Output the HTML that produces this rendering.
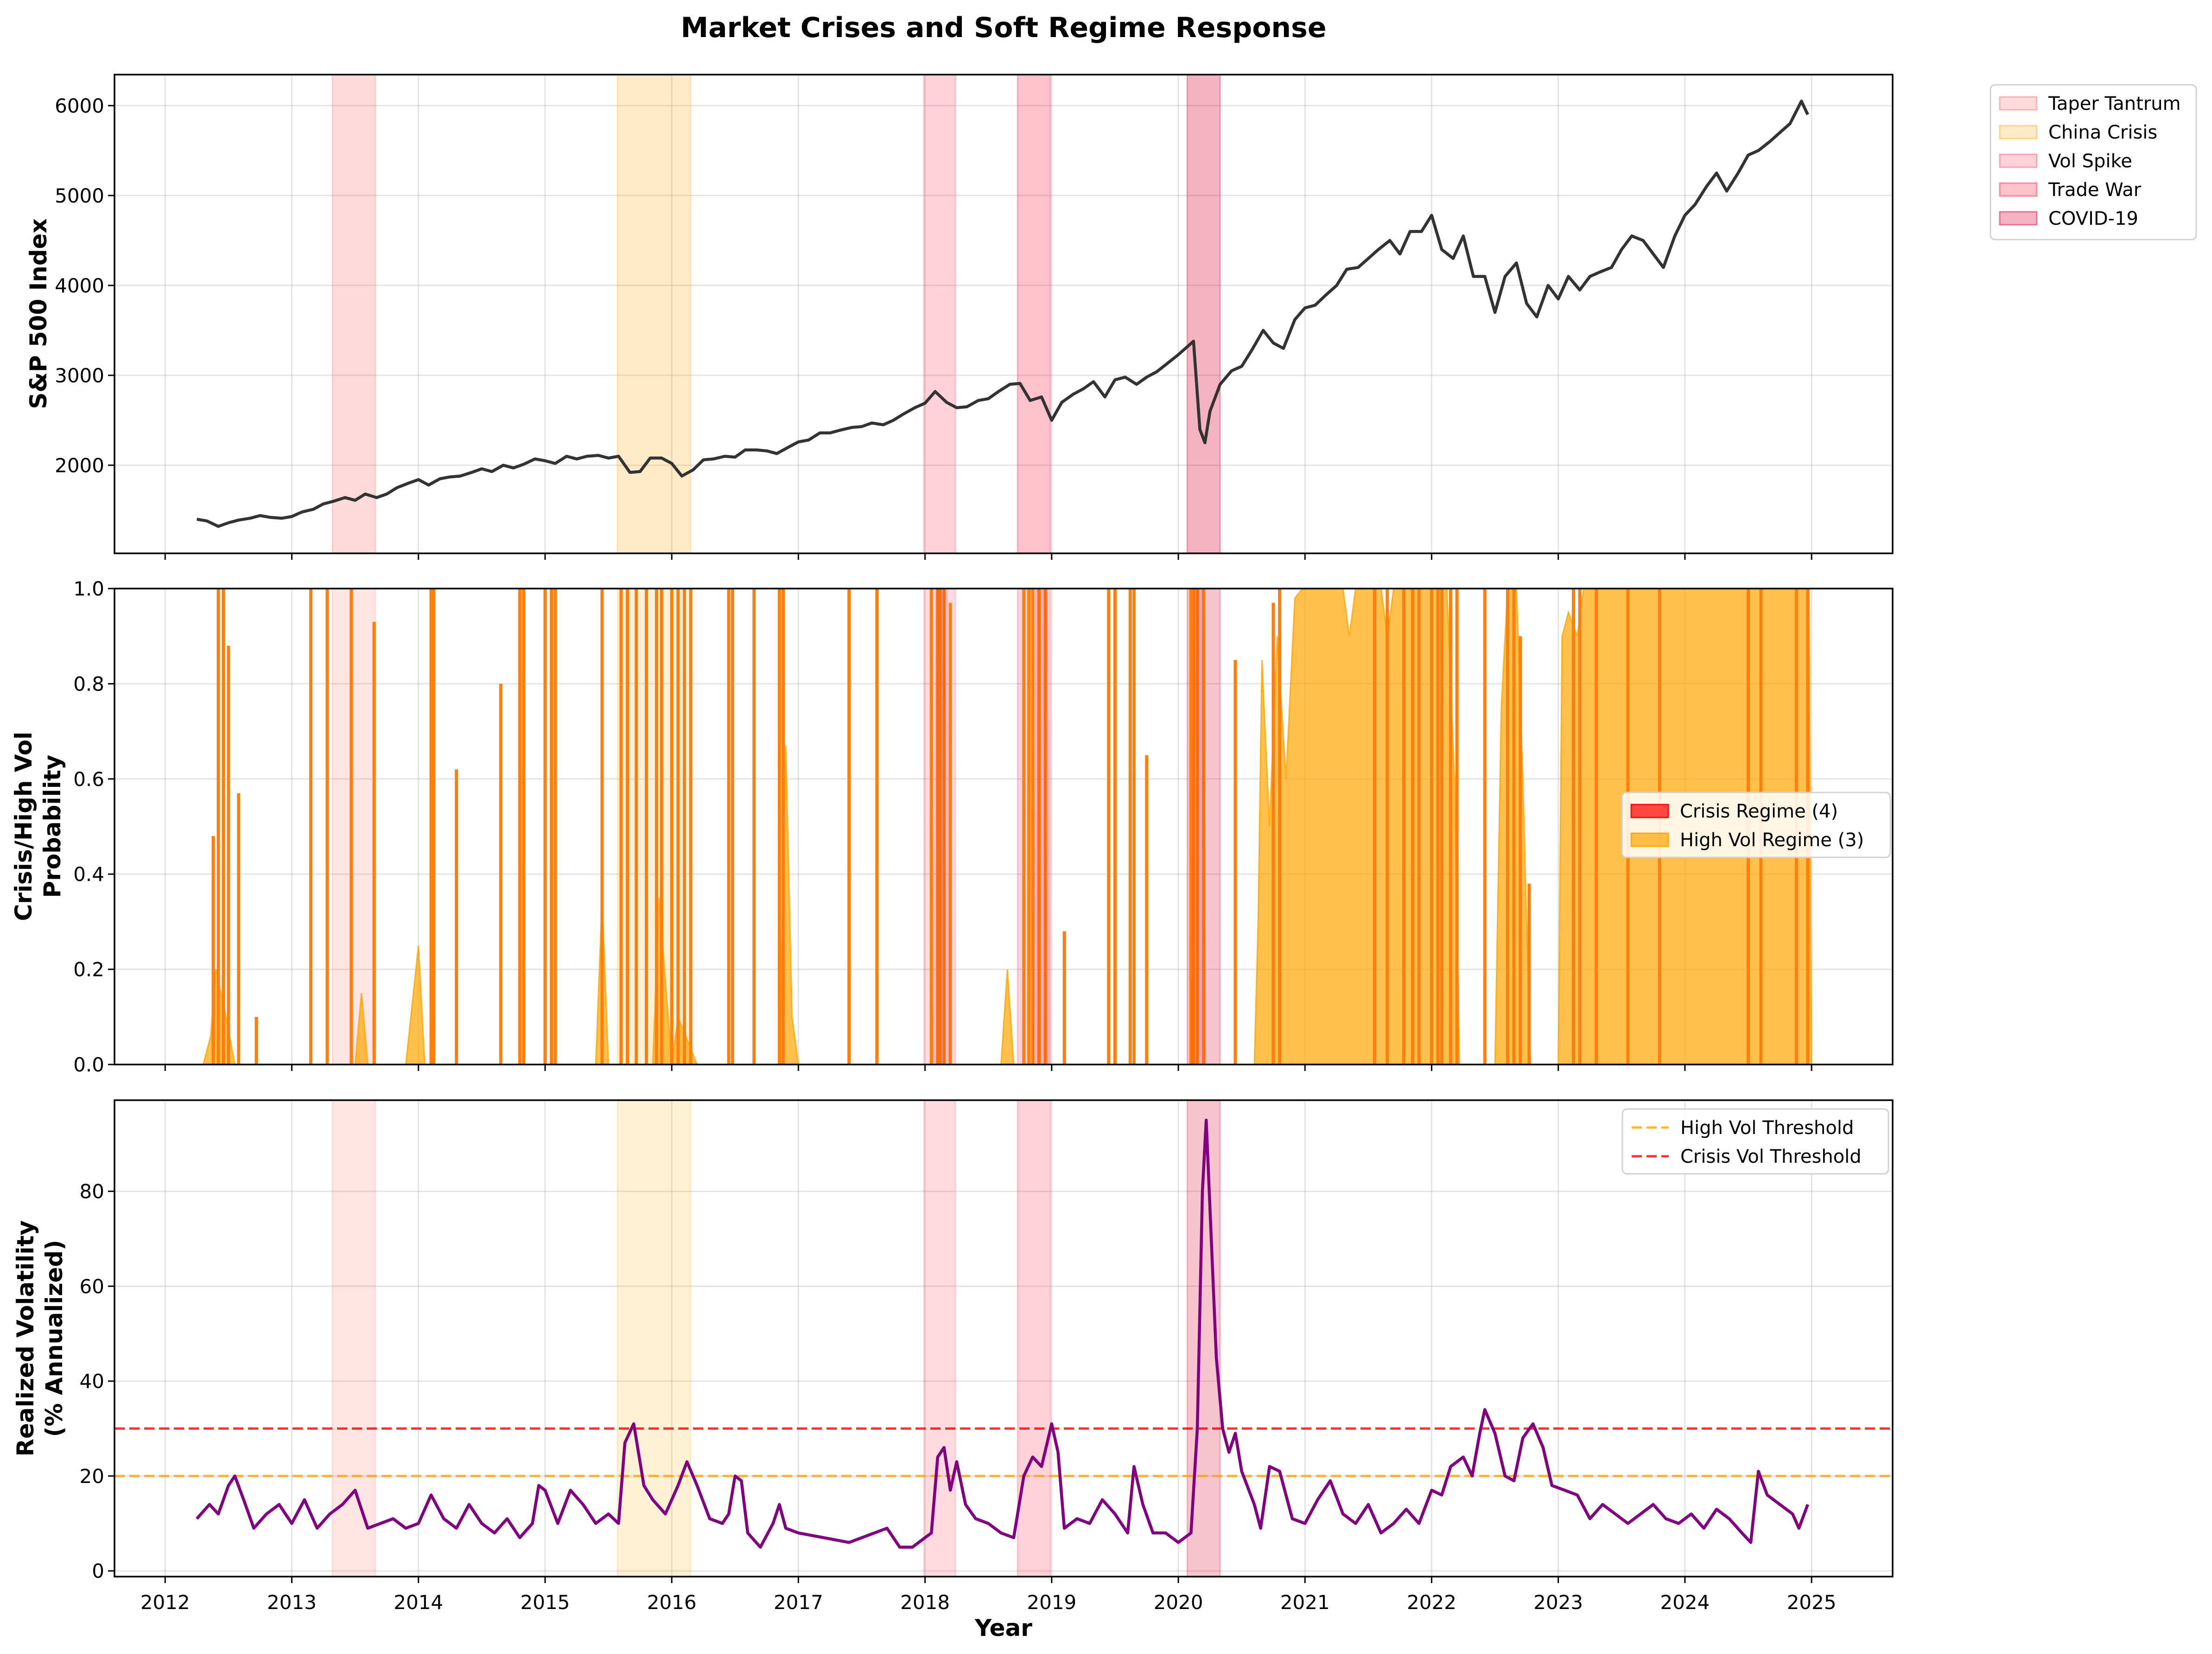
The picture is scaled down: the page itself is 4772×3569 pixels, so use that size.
<!DOCTYPE html>
<html><head><meta charset="utf-8">
<style>
html,body{margin:0;padding:0;background:#fff;}
svg{display:block;font-family:"DejaVu Sans","Liberation Sans",sans-serif;}
</style></head>
<body>
<svg id="chart" width="4772" height="3569" viewBox="0 0 4772 3569" xmlns="http://www.w3.org/2000/svg">
<rect x="0" y="0" width="4772" height="3569" fill="#fff"/>
<text x="2165" y="80" font-size="60" font-weight="bold" text-anchor="middle">Market Crises and Soft Regime Response</text>
<g id="g1"></g><g id="g2"></g><g id="g3"></g>
<text x="2165" y="3530" font-size="50" font-weight="bold" text-anchor="middle">Year</text>
</svg>
<script>
// ---- data ----
const crisisNames = ["Taper Tantrum","China Crisis","Vol Spike","Trade War","COVID-19"];
const crisisStart = [2013.32,2015.57,2017.99,2018.73,2020.07];
const crisisEnd   = [2013.66,2016.15,2018.24,2018.99,2020.33];
const crisisColors = ["#ff6b6b","#ffa500","#ff4d6a","#ff3355","#dc143c"];

const spxT = [2012.25,2012.33,2012.42,2012.5,2012.58,2012.67,2012.75,2012.83,2012.92,2013.0,2013.08,2013.17,2013.25,2013.33,2013.42,2013.5,2013.58,2013.67,2013.75,2013.83,2013.92,2014.0,2014.08,2014.17,2014.25,2014.33,2014.42,2014.5,2014.58,2014.67,2014.75,2014.83,2014.92,2015.0,2015.08,2015.17,2015.25,2015.33,2015.42,2015.5,2015.58,2015.67,2015.75,2015.83,2015.92,2016.0,2016.08,2016.17,2016.25,2016.33,2016.42,2016.5,2016.58,2016.67,2016.75,2016.83,2016.92,2017.0,2017.08,2017.17,2017.25,2017.33,2017.42,2017.5,2017.58,2017.67,2017.75,2017.83,2017.92,2018.0,2018.08,2018.17,2018.25,2018.33,2018.42,2018.5,2018.58,2018.67,2018.75,2018.83,2018.92,2019.0,2019.08,2019.17,2019.25,2019.33,2019.42,2019.5,2019.58,2019.67,2019.75,2019.83,2019.92,2020.0,2020.08,2020.12,2020.17,2020.21,2020.25,2020.33,2020.42,2020.5,2020.58,2020.67,2020.75,2020.83,2020.92,2021.0,2021.08,2021.17,2021.25,2021.33,2021.42,2021.5,2021.58,2021.67,2021.75,2021.83,2021.92,2022.0,2022.08,2022.17,2022.25,2022.33,2022.42,2022.5,2022.58,2022.67,2022.75,2022.83,2022.92,2023.0,2023.08,2023.17,2023.25,2023.33,2023.42,2023.5,2023.58,2023.67,2023.75,2023.83,2023.92,2024.0,2024.08,2024.17,2024.25,2024.33,2024.42,2024.5,2024.58,2024.67,2024.75,2024.83,2024.92,2024.97];
const spxV = [1400,1380,1320,1360,1390,1410,1440,1420,1410,1430,1480,1510,1570,1600,1640,1610,1680,1640,1680,1750,1800,1840,1780,1850,1870,1880,1920,1960,1930,2000,1970,2010,2070,2050,2020,2100,2070,2100,2110,2080,2100,1920,1930,2080,2080,2020,1880,1950,2060,2070,2100,2090,2170,2170,2160,2130,2200,2260,2280,2360,2360,2390,2420,2430,2470,2450,2500,2570,2640,2690,2820,2700,2640,2650,2720,2740,2820,2900,2910,2720,2760,2500,2700,2790,2850,2930,2760,2950,2980,2900,2980,3040,3140,3230,3330,3380,2400,2250,2600,2900,3050,3100,3280,3500,3360,3300,3620,3750,3780,3900,4000,4180,4200,4300,4400,4500,4350,4600,4600,4780,4400,4300,4550,4100,4100,3700,4100,4250,3800,3650,4000,3850,4100,3950,4100,4150,4200,4400,4550,4500,4350,4200,4550,4780,4900,5100,5250,5050,5250,5450,5500,5600,5700,5800,6050,5900];

const spikeT = [2012.38,2012.42,2012.46,2012.5,2012.58,2012.72,2013.15,2013.28,2013.47,2013.65,2014.1,2014.12,2014.3,2014.65,2014.8,2014.83,2015.0,2015.05,2015.08,2015.45,2015.6,2015.65,2015.72,2015.8,2015.88,2015.92,2016.0,2016.05,2016.1,2016.15,2016.45,2016.48,2016.65,2016.85,2016.88,2017.4,2017.62,2018.05,2018.1,2018.12,2018.15,2018.2,2018.78,2018.82,2018.85,2018.9,2018.95,2019.1,2019.45,2019.5,2019.62,2019.65,2019.75,2020.1,2020.12,2020.15,2020.2,2020.45,2020.75,2020.8,2021.55,2021.65,2021.78,2021.85,2021.9,2022.0,2022.05,2022.08,2022.15,2022.2,2022.42,2022.6,2022.65,2022.7,2022.77,2023.12,2023.17,2023.3,2023.55,2023.8,2024.5,2024.6,2024.88,2024.97];
const spikeV = [0.48,1,1,0.88,0.57,0.1,1,1,1,0.93,1,1,0.62,0.8,1,1,1,1,1,1,1,1,1,1,1,1,1,1,1,1,1,1,1,1,1,1,1,1,1,1,1,0.97,1,1,1,1,1,0.28,1,1,1,1,0.65,1,1,1,1,0.85,0.97,1,1,1,1,1,1,1,1,1,1,1,1,1,1,0.9,0.38,1,1,1,1,1,1,1,1,1];

const hvT = [2012.3,2012.36,2012.4,2012.48,2012.55,2013.5,2013.55,2013.6,2013.9,2014.0,2014.05,2015.4,2015.45,2015.5,2015.85,2015.9,2016.0,2016.05,2016.2,2016.85,2016.9,2016.95,2017.0,2018.6,2018.65,2018.7,2020.6,2020.63,2020.66,2020.72,2020.78,2020.85,2020.92,2020.98,2021.05,2021.3,2021.35,2021.4,2021.6,2021.65,2021.7,2022.12,2022.18,2022.22,2022.5,2022.55,2022.6,2022.67,2022.72,2022.78,2023.0,2023.03,2023.08,2023.15,2023.2,2023.5,2024.0,2024.5,2024.9,2024.98,2025.0];
const hvV = [0,0.06,0.2,0.1,0,0,0.15,0,0,0.25,0,0,0.35,0,0,0.35,0,0.1,0,0,0.67,0.1,0,0,0.2,0,0,0.3,0.85,0.5,0.9,0.6,0.98,1,1,1,0.9,1,1,0.9,1,1,0.6,0,0,0.75,1,1,0.6,0,0,0.9,0.95,0.9,1,1,1,1,1,1,0];

const crT = [2018.06,2018.08,2018.18,2018.2,2018.85,2018.87,2018.97,2018.99,2020.1,2020.12,2020.2,2020.22];
const crV = [0,1,1,0,0,1,1,0,0,1,1,0];

const volT = [2012.25,2012.35,2012.42,2012.5,2012.55,2012.62,2012.7,2012.8,2012.9,2013.0,2013.1,2013.2,2013.3,2013.4,2013.5,2013.6,2013.7,2013.8,2013.9,2014.0,2014.1,2014.2,2014.3,2014.4,2014.5,2014.6,2014.7,2014.8,2014.9,2014.95,2015.0,2015.1,2015.2,2015.3,2015.4,2015.5,2015.58,2015.63,2015.7,2015.78,2015.85,2015.95,2016.05,2016.12,2016.2,2016.3,2016.4,2016.45,2016.5,2016.55,2016.6,2016.7,2016.8,2016.85,2016.9,2017.0,2017.2,2017.4,2017.6,2017.7,2017.8,2017.9,2018.0,2018.05,2018.1,2018.15,2018.2,2018.25,2018.32,2018.4,2018.5,2018.6,2018.7,2018.78,2018.85,2018.92,2019.0,2019.05,2019.1,2019.2,2019.3,2019.4,2019.5,2019.6,2019.65,2019.72,2019.8,2019.9,2020.0,2020.1,2020.15,2020.19,2020.22,2020.26,2020.3,2020.35,2020.4,2020.45,2020.5,2020.6,2020.65,2020.72,2020.8,2020.9,2021.0,2021.1,2021.2,2021.3,2021.4,2021.5,2021.6,2021.7,2021.8,2021.9,2022.0,2022.08,2022.15,2022.25,2022.32,2022.38,2022.42,2022.5,2022.58,2022.65,2022.72,2022.8,2022.88,2022.95,2023.05,2023.15,2023.25,2023.35,2023.45,2023.55,2023.65,2023.75,2023.85,2023.95,2024.05,2024.15,2024.25,2024.35,2024.45,2024.52,2024.58,2024.65,2024.75,2024.85,2024.9,2024.97];
const volV = [11,14,12,18,20,15,9,12,14,10,15,9,12,14,17,9,10,11,9,10,16,11,9,14,10,8,11,7,10,18,17,10,17,14,10,12,10,27,31,18,15,12,18,23,18,11,10,12,20,19,8,5,10,14,9,8,7,6,8,9,5,5,7,8,24,26,17,23,14,11,10,8,7,20,24,22,31,25,9,11,10,15,12,8,22,14,8,8,6,8,30,80,95,70,45,30,25,29,21,14,9,22,21,11,10,15,19,12,10,14,8,10,13,10,17,16,22,24,20,29,34,29,20,19,28,31,26,18,17,16,11,14,12,10,12,14,11,10,12,9,13,11,8,6,21,16,14,12,9,14];

const yearTicks = [2012,2013,2014,2015,2016,2017,2018,2019,2020,2021,2022,2023,2024,2025];
const spxTicks = [2000,3000,4000,5000,6000];
const probTicks = [0,0.2,0.4,0.6,0.8,1.0];
const volTicks = [0,20,40,60,80];
const highVolThreshold = 20, crisisVolThreshold = 30;

// ---- layout ----
const NS = "http://www.w3.org/2000/svg";
const L = 247, R = 4083, X0 = 2011.60, X1 = 2025.64;
const xs = t => L + (t - X0) / (X1 - X0) * (R - L);
const panels = [
  {g:"g1", top:161, bot:1194, y0:1020, y1:6345},
  {g:"g2", top:1270, bot:2297, y0:0, y1:1},
  {g:"g3", top:2374, bot:3402, y0:-1.2, y1:99.2}
];
function mk(parent, tag, attrs){ const e=document.createElementNS(NS,tag); for(const k in attrs) e.setAttribute(k,attrs[k]); parent.appendChild(e); return e; }
function ysOf(p){ return v => p.bot - (v - p.y0)/(p.y1 - p.y0)*(p.bot - p.top); }

panels.forEach((p, i) => {
  const g = document.getElementById(p.g);
  const ys = ysOf(p);
  const clipId = "clip"+i;
  const cp = mk(g,"clipPath",{id:clipId});
  mk(cp,"rect",{x:L,y:p.top,width:R-L,height:p.bot-p.top});
  yearTicks.forEach(t => {
    const ln = mk(g,"line",{x1:xs(t),x2:xs(t),y1:p.top,y2:p.bot,stroke:"#b0b0b0","stroke-opacity":0.35,"stroke-width":3});
    
    
    const tk = mk(g,"line",{x1:xs(t),x2:xs(t),y1:p.bot,y2:p.bot+14,stroke:"#000","stroke-width":3});
    
    
  });
  const yt = i===0?spxTicks:(i===1?probTicks:volTicks);
  yt.forEach(v => {
    const y = ys(v);
    const ln = mk(g,"line",{x1:L,x2:R,y1:y,y2:y,stroke:"#b0b0b0","stroke-opacity":0.35,"stroke-width":3});
    
    
    const tk = mk(g,"line",{x1:L-14,x2:L,y1:y,y2:y,stroke:"#000","stroke-width":3});
    
    
    const tx = mk(g,"text",{x:L-22,y:y+15,"font-size":42,"text-anchor":"end"});
    tx.textContent = i===1 ? v.toFixed(1) : String(v);
    
    
  });
  crisisStart.forEach((s, k) => {
    const a = i===0 ? [0.25,0.22,0.25,0.3,0.32][k] : [0.18,0.16,0.2,0.22,0.25][k];
    const r = mk(g,"rect",{x:xs(s),y:p.top,width:xs(crisisEnd[k])-xs(s),height:p.bot-p.top,fill:crisisColors[k],"fill-opacity":a,stroke:crisisColors[k],"stroke-opacity":a,"stroke-width":3});
    
    
  });
  const cg = mk(g,"g",{"clip-path":"url(#"+clipId+")"});
  if (i===0) {
    const d = spxT.map((t,k)=>(k?"L":"M")+xs(t).toFixed(1)+","+ys(spxV[k]).toFixed(1)).join("");
    const pth = mk(cg,"path",{d:d,fill:"none",stroke:"#333","stroke-width":6.5,"stroke-linejoin":"round"});
    
    
  } else if (i===1) {
    const dh = "M"+xs(hvT[0])+","+ys(0)+hvT.map((t,k)=>"L"+xs(t).toFixed(1)+","+ys(hvV[k]).toFixed(1)).join("")+"L"+xs(hvT[hvT.length-1])+","+ys(0)+"Z";
    const hv = mk(cg,"path",{d:dh,fill:"#ffa500","fill-opacity":0.7,stroke:"#ffa500","stroke-opacity":0.8,"stroke-width":3});
    
    
    spikeT.forEach((t,k) => {
      const ln = mk(cg,"line",{x1:xs(t),x2:xs(t),y1:ys(0),y2:ys(spikeV[k]),stroke:"#ff7f0e","stroke-width":7});
      
      
    });
    const dc = "M"+xs(crT[0])+","+ys(0)+crT.map((t,k)=>"L"+xs(t).toFixed(1)+","+ys(crV[k]).toFixed(1)).join("")+"Z";
    const cr = mk(cg,"path",{d:dc,fill:"#ff0000","fill-opacity":0.15});
    
    
  } else {
    [[highVolThreshold,"#ffa500","high-vol-threshold-line"],[crisisVolThreshold,"#ff0000","crisis-vol-threshold-line"]].forEach(h=>{
      const ln = mk(cg,"line",{x1:L,x2:R,y1:ys(h[0]),y2:ys(h[0]),stroke:h[1],"stroke-opacity":0.8,"stroke-width":5,"stroke-dasharray":"22,10"});
      
      
    });
    const d = volT.map((t,k)=>(k?"L":"M")+xs(t).toFixed(1)+","+ys(volV[k]).toFixed(1)).join("");
    const pth = mk(cg,"path",{d:d,fill:"none",stroke:"#800080","stroke-width":6.5,"stroke-linejoin":"round"});
    
    
  }
  const fr = mk(g,"rect",{x:L,y:p.top,width:R-L,height:p.bot-p.top,fill:"none",stroke:"#000","stroke-width":3.5});
  
  
});
yearTicks.forEach(t => {
  const tx = mk(document.getElementById("g3"),"text",{x:xs(t),y:3472,"font-size":42,"text-anchor":"middle"});
  tx.textContent = String(t);
  
  
});
function ytitle(lines, cx, cy, name){
  const t = mk(document.getElementById("chart"),"text",{transform:"translate("+cx+","+cy+") rotate(-90)","font-size":50,"font-weight":"bold","text-anchor":"middle"});
  
  
  lines.forEach((s,k)=>{ const sp=mk(t,"tspan",{x:0,y:k*62}); sp.textContent=s; });
}
ytitle(["S&P 500 Index"], 100, 677, "y-axis-title-sp500");
ytitle(["Crisis/High Vol","Probability"], 68, 1783, "y-axis-title-probability");
ytitle(["Realized Volatility","(% Annualized)"], 72, 2888, "y-axis-title-volatility");
function legend(x,y,w,h,items,name){
  const g = mk(document.getElementById("chart"),"g",{});
  
  
  mk(g,"rect",{x:x,y:y,width:w,height:h,rx:10,fill:"#fff","fill-opacity":0.85,stroke:"#d0d0d0","stroke-width":3});
  items.forEach((it,k)=>{
    const yy = y+40+k*62;
    if (it.dash) mk(g,"line",{x1:x+20,x2:x+100,y1:yy,y2:yy,stroke:it.c,"stroke-opacity":0.8,"stroke-width":5,"stroke-dasharray":"22,10"});
    else mk(g,"rect",{x:x+20,y:yy-14,width:80,height:28,fill:it.c,"fill-opacity":it.a,stroke:it.c,"stroke-opacity":Math.min(1,it.a+0.2),"stroke-width":3});
    const t = mk(g,"text",{x:x+125,y:yy+14,"font-size":40});
    t.textContent = it.t;
    
    
  });
}
legend(4294,183,444,334,crisisNames.map((n,k)=>({t:n,c:crisisColors[k],a:[0.25,0.22,0.25,0.3,0.32][k]})),"crisis-legend");
legend(3499,1710,579,140,[{t:"Crisis Regime (4)",c:"#ff0000",a:0.7},{t:"High Vol Regime (3)",c:"#ffa500",a:0.7}],"regime-legend");
legend(3500,2393,574,140,[{t:"High Vol Threshold",c:"#ffa500",dash:1},{t:"Crisis Vol Threshold",c:"#ff0000",dash:1}],"threshold-legend");
</script>
</body></html>
